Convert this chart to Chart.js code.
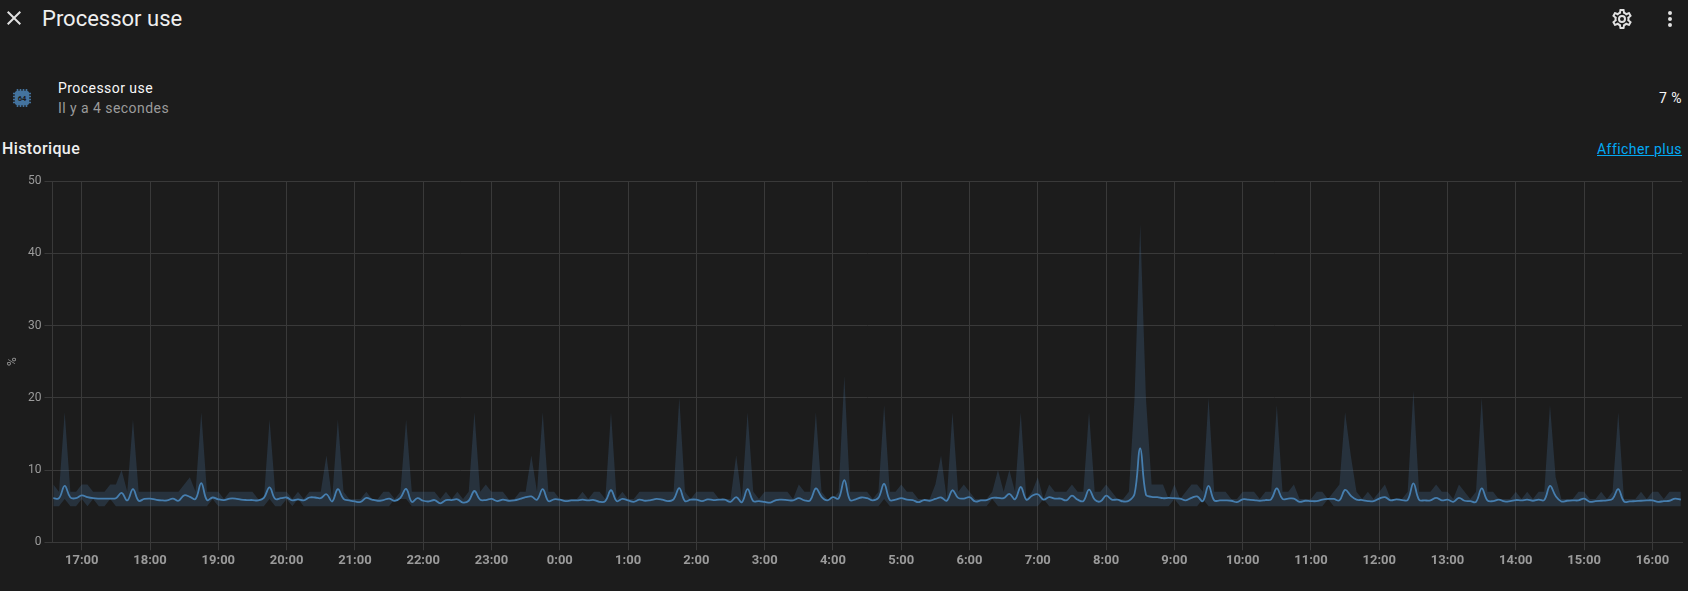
<!DOCTYPE html>
<html>
<head>
<meta charset="utf-8">
<title>Processor use</title>
<script src="https://cdn.jsdelivr.net/npm/chart.js@4"></script>
<style>
  html, body { margin: 0; padding: 0; background: #1c1c1c; overflow: hidden; }
  body { width: 1688px; height: 591px; position: relative; font-family: Roboto, sans-serif; color: #efefef; }
  .txt { position: absolute; white-space: nowrap; line-height: 20px; }
  svg.icon { position: absolute; fill: #e1e1e1; }
  #chart { position: absolute; left: 0; top: 160px; }
</style>
</head>
<body>
<svg class="icon" style="left:2px;top:6px" width="24" height="24" viewBox="0 0 24 24"><path d="M19,6.41L17.59,5L12,10.59L6.41,5L5,6.41L10.59,12L5,17.59L6.41,19L12,13.41L17.59,19L19,17.59L13.41,12L19,6.41Z"/></svg>
<div class="txt" style="left:42px;top:9px;font-size:22px;">Processor use</div>
<svg class="icon" style="left:1610px;top:7px" width="24" height="24" viewBox="0 0 24 24"><path d="M12,8A4,4 0 0,1 16,12A4,4 0 0,1 12,16A4,4 0 0,1 8,12A4,4 0 0,1 12,8M12,10A2,2 0 0,0 10,12A2,2 0 0,0 12,14A2,2 0 0,0 14,12A2,2 0 0,0 12,10M10,22C9.75,22 9.54,21.82 9.5,21.58L9.13,18.93C8.5,18.68 7.96,18.34 7.44,17.94L4.95,18.95C4.73,19.03 4.46,18.95 4.34,18.73L2.34,15.27C2.21,15.05 2.27,14.78 2.46,14.63L4.57,12.97L4.5,12L4.57,11L2.46,9.37C2.27,9.22 2.21,8.95 2.34,8.73L4.34,5.27C4.46,5.05 4.73,4.96 4.95,5.05L7.44,6.05C7.96,5.66 8.5,5.32 9.13,5.07L9.5,2.42C9.54,2.18 9.75,2 10,2H14C14.25,2 14.46,2.18 14.5,2.42L14.87,5.07C15.5,5.32 16.04,5.66 16.56,6.05L19.05,5.05C19.27,4.96 19.54,5.05 19.66,5.27L21.66,8.73C21.79,8.95 21.73,9.22 21.54,9.37L19.43,11L19.5,12L19.43,13L21.54,14.63C21.73,14.78 21.79,15.05 21.66,15.27L19.66,18.73C19.54,18.95 19.27,19.04 19.05,18.95L16.56,17.95C16.04,18.34 15.5,18.68 14.87,18.93L14.5,21.58C14.46,21.82 14.25,22 14,22H10M11.25,4L10.88,6.61C9.68,6.86 8.62,7.5 7.85,8.39L5.44,7.35L4.69,8.65L6.8,10.2C6.4,11.37 6.4,12.64 6.8,13.8L4.68,15.36L5.43,16.66L7.86,15.62C8.63,16.5 9.68,17.14 10.87,17.38L11.24,20H12.76L13.13,17.39C14.32,17.14 15.37,16.5 16.14,15.62L18.57,16.66L19.32,15.36L17.2,13.81C17.6,12.64 17.6,11.37 17.2,10.2L19.31,8.65L18.56,7.35L16.15,8.39C15.38,7.5 14.32,6.86 13.12,6.62L12.75,4H11.25Z"/></svg>
<svg class="icon" style="left:1658px;top:7px" width="24" height="24" viewBox="0 0 24 24"><path d="M12,16A2,2 0 0,1 14,18A2,2 0 0,1 12,20A2,2 0 0,1 10,18A2,2 0 0,1 12,16M12,10A2,2 0 0,1 14,12A2,2 0 0,1 12,14A2,2 0 0,1 10,12A2,2 0 0,1 12,10M12,4A2,2 0 0,1 14,6A2,2 0 0,1 12,8A2,2 0 0,1 10,6A2,2 0 0,1 12,4Z"/></svg>

<svg class="icon" style="left:12px;top:88px" width="20" height="20" viewBox="0 0 20 20">
  <rect x="2.8" y="2.8" width="14.4" height="14.4" rx="3" fill="#44739e"/>
  <path d="M5.5,1V19M8.5,1V19M11.5,1V19M14.5,1V19M1,5.5H19M1,8.5H19M1,11.5H19M1,14.5H19" stroke="#44739e" stroke-width="1.6" fill="none"/>
  <rect x="3.6" y="3.6" width="12.8" height="12.8" rx="3" fill="#44739e"/>
  <text x="10" y="12.6" text-anchor="middle" font-size="7.5" font-weight="700" font-family="Roboto" fill="#1c1c1c">64</text>
</svg>
<div class="txt" style="left:58px;top:78px;font-size:14px;font-weight:400;letter-spacing:.45px;color:#f8f8f8;">Processor use</div>
<div class="txt" style="left:58px;top:98px;font-size:14px;color:#9b9b9b;letter-spacing:.45px;">Il y a 4 secondes</div>
<div class="txt" style="right:6px;top:88px;font-size:14px;font-weight:400;letter-spacing:.5px;color:#f8f8f8;">7 %</div>
<div class="txt" style="left:2px;top:139px;font-size:16px;font-weight:500;letter-spacing:.4px;">Historique</div>
<div class="txt" style="right:6px;top:139px;font-size:14px;color:#03a9f4;text-decoration:underline;letter-spacing:.45px;">Afficher plus</div>

<canvas id="chart" width="1688" height="420"></canvas>

<script>
// five minute statistics, first sample at 16:35
const hourLabels = ['17:00','18:00','19:00','20:00','21:00','22:00','23:00','0:00','1:00','2:00','3:00','4:00',
  '5:00','6:00','7:00','8:00','9:00','10:00','11:00','12:00','13:00','14:00','15:00','16:00'];

const maxValues = [
  8,7,18,7,7,8,8,7,7,7,8,8,
  10,7,17,7,7,7,7,7,7,7,7,8,
  9,7,18,7,7,7,6,7,7,7,7,7,
  6,6,17,7,7,7,6,7,6,7,7,7,
  12,6,17,7,6,6,6,7,6,6,7,7,
  6,7,17,7,7,7,7,7,6,7,6,7,
  6,7,18,7,8,7,7,7,6,6,7,7,
  12,7,18,7,7,6,6,6,6,7,6,7,
  7,6,18,6,7,6,6,7,7,7,7,7,
  7,7,20,7,6,7,7,7,7,6,6,6,
  12,6,18,7,6,7,7,7,7,7,6,8,
  7,7,18,7,6,6,7,23,7,7,7,7,
  6,7,19,7,7,8,7,7,6,6,6,8,
  12,6,18,7,8,7,6,6,6,7,10,7,
  10,7,18,6,7,9,6,8,7,7,7,8,
  7,7,18,7,7,8,7,6,6,7,20,44,
  20,8,8,8,6,8,6,7,8,8,7,20,
  7,7,7,6,6,7,7,7,6,7,7,19,
  7,7,8,6,6,6,7,7,6,7,8,18,
  12,7,6,7,6,7,8,6,6,6,7,21,
  7,7,7,8,7,7,6,8,7,6,7,20,
  7,7,6,6,6,7,6,7,6,7,7,19,
  9,6,6,6,7,7,6,6,7,6,7,18,
  6,6,6,7,6,7,7,6,7,7,7
];

const minValues = [
  5,5,6,5,5,6,5,6,5,5,6,5,
  5,5,5,5,5,5,5,5,5,5,5,5,
  5,5,5,5,6,5,5,5,5,5,5,5,
  5,5,6,5,5,6,5,6,5,5,5,5,
  5,5,5,5,5,5,5,5,5,5,5,5,
  6,6,6,5,5,5,5,5,5,5,5,5,
  5,5,5,5,5,5,5,5,5,5,5,5,
  5,5,5,5,5,5,5,5,5,5,5,5,
  5,5,5,5,5,5,5,5,5,5,5,5,
  5,5,5,5,5,5,5,5,5,5,5,5,
  5,5,5,5,5,5,5,5,5,5,5,5,
  5,5,5,5,5,5,5,5,5,5,5,5,
  5,5,6,5,5,5,5,5,5,5,5,5,
  5,5,5,5,5,5,5,5,5,6,5,5,
  5,5,5,5,5,5,6,5,5,5,5,5,
  5,5,5,5,5,5,5,5,5,5,5,5,
  5,5,5,5,5,6,5,5,5,5,6,5,
  5,5,5,5,5,5,5,5,5,5,5,5,
  5,5,5,5,5,5,5,5,6,5,5,5,
  5,5,5,5,5,5,5,5,5,5,5,5,
  5,5,5,5,5,5,5,5,5,5,5,5,
  5,5,5,5,5,5,5,5,5,5,5,5,
  5,5,5,5,5,5,5,5,5,5,5,5,
  5,5,5,5,5,5,5,5,5,5,5
];

const meanValues = [
  6.1,6.1,7.8,6.2,6.1,6.5,6.25,6.1,6.05,6.05,6.05,6.1,
  6.85,5.8,7.35,5.75,6,6.05,5.9,5.8,5.8,6.05,5.75,6.5,
  6.3,6,8.2,5.85,6.2,5.95,5.85,6.05,6.05,5.9,5.85,5.85,
  5.8,6.15,7.6,6,6.1,6.2,5.8,5.95,5.8,6.2,6.2,6.1,
  6.65,5.65,7.35,6,5.8,5.65,5.6,6.15,5.9,5.75,5.85,6.05,
  5.75,6.15,7.4,5.6,6.1,5.75,5.65,5.85,5.4,5.85,5.85,5.95,
  5.5,5.75,7.1,5.9,5.85,6,5.7,5.9,5.75,5.8,6,6.25,
  6.35,5.9,7.35,5.7,5.95,5.9,5.7,5.8,5.8,5.9,5.8,5.85,
  5.6,5.7,7.2,5.7,6,5.8,5.6,5.9,5.75,5.85,6,5.9,
  5.7,5.95,7.5,5.7,5.9,5.9,5.7,5.95,5.85,5.9,5.9,5.6,
  6.25,5.55,7.35,5.7,5.7,5.6,5.5,5.85,5.9,5.85,5.8,6.1,
  5.8,5.8,7.45,6.3,5.8,6.25,6.05,8.6,5.85,5.95,6.2,6.1,
  5.8,6.15,8.1,5.85,5.9,6.1,5.9,5.85,5.55,5.85,5.75,6,
  6.2,5.75,7.2,6.15,6.05,6.25,5.65,5.8,5.85,6.15,6.15,6.1,
  6.7,5.95,7.65,5.9,6.45,6.65,5.9,6.25,6.05,6.05,5.8,6.45,
  5.9,5.7,7.3,5.9,5.65,6.45,5.9,5.9,5.65,5.75,6.7,13,
  6.6,6.3,6.25,6.1,6.15,6.1,6.05,5.8,6.15,6.35,5.7,7.8,
  5.8,5.8,5.8,5.75,5.55,5.95,5.9,5.85,5.75,5.85,5.95,7.45,
  6,6.05,6.05,5.6,5.75,5.7,5.7,5.9,6,6,5.8,7.25,
  6.45,5.9,5.85,5.7,5.7,6.05,6.25,5.8,5.95,5.85,5.85,8.15,
  5.9,5.8,5.8,6.15,5.8,5.9,5.6,6.15,5.75,5.7,5.6,7.45,
  5.8,5.7,5.9,5.65,5.7,5.85,5.8,5.9,5.75,5.9,5.85,7.8,
  6.4,5.65,5.75,5.8,5.8,6.05,5.6,5.7,5.75,5.8,6,7.35,
  5.65,5.65,5.7,5.75,5.8,5.8,5.6,5.7,5.75,6.05,5.9
];

// minutes after 16:35 for each sample, hour lines start at 17:00
const minutes = meanValues.map((v, i) => i * 5);
const hourTicks = hourLabels.map((l, i) => 25 + i * 60);

const pts = arr => arr.map((v, i) => ({ x: minutes[i], y: v }));
const gridColor = '#393939';
const tickColor = '#9b9b9b';

new Chart(document.getElementById('chart'), {
  type: 'line',
  data: {
    datasets: [
      { label: 'max', data: pts(maxValues), borderWidth: 0, pointRadius: 0, tension: 0,
        backgroundColor: 'rgba(70,115,158,0.25)', fill: '+1' },
      { label: 'min', data: pts(minValues), borderWidth: 0, pointRadius: 0, tension: 0, fill: false },
      { label: 'mean', data: pts(meanValues), borderColor: '#4682b4', borderWidth: 1.8, pointRadius: 0,
        tension: 0.4, fill: false }
    ]
  },
  options: {
    responsive: false,
    animation: false,
    layout: { padding: { top: 21, right: 6, left: 0, bottom: 0 } },
    plugins: { legend: { display: false }, tooltip: { enabled: false } },
    scales: {
      x: {
        type: 'linear',
        min: -0.7,
        max: 1431,
        afterBuildTicks: scale => { scale.ticks = hourTicks.map(v => ({ value: v })); },
        afterFit: scale => { scale.height = 37.7; },
        grid: { color: gridColor, tickLength: 8 },
        border: { color: gridColor },
        ticks: {
          color: tickColor,
          font: { family: 'Roboto', size: 13, weight: 'bold' },
          maxRotation: 0,
          autoSkip: false,
          padding: 3,
          callback: value => hourLabels[hourTicks.indexOf(value)]
        }
      },
      y: {
        min: 0,
        max: 50,
        afterFit: scale => { scale.width = 52.5; },
        grid: { color: gridColor, tickLength: 8 },
        border: { color: gridColor },
        title: { display: true, text: '%', color: tickColor, font: { family: 'Roboto', size: 12 }, padding: { top: 6, bottom: 0 } },
        ticks: { color: tickColor, font: { family: 'Roboto', size: 12 }, stepSize: 10, padding: 3 }
      }
    }
  }
});
</script>
</body>
</html>
